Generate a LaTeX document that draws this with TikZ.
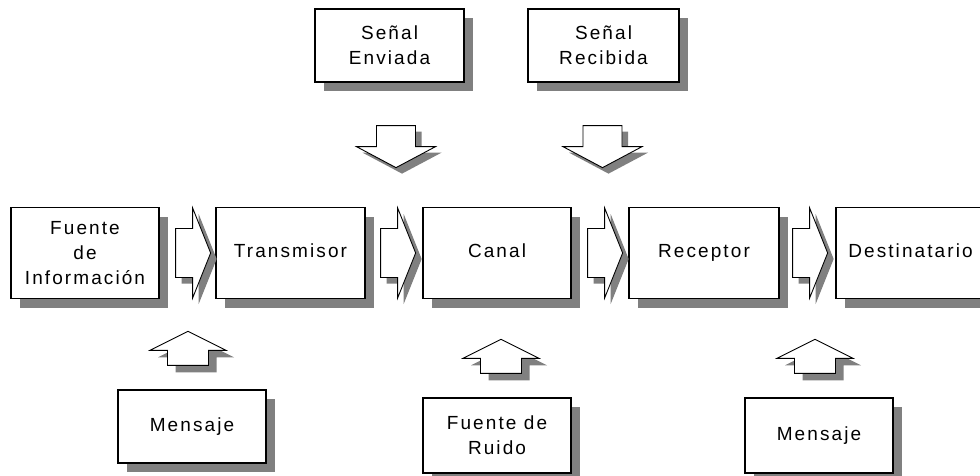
\documentclass[tikz,border=0pt]{standalone}
\usepackage{fontspec}
\setmainfont{Liberation Sans}[LetterSpace=11]
\usetikzlibrary{shadows,calc}
\definecolor{shadowgray}{RGB}{128,128,128}
\newcommand{\evenline}{\vphantom{Tp}}
\tikzset{
  box/.style={draw=black, line width=1.3pt, fill=white, rectangle, align=center,
    inner sep=0pt, font=\fontsize{19}{25}\selectfont,
    drop shadow={shadow xshift=9pt, shadow yshift=-9pt, fill=shadowgray, opacity=1}},
  barrow/.style={draw=black, line width=0.9pt, fill=white, line join=miter},
  bshadow/.style={fill=shadowgray, draw=none},
  rarrow/.pic={
    \path[bshadow, shift={(6,6)}] (0,-24.5) -- (17,-24.5) -- (17,-45) -- (35,0) -- (17,45) -- (17,24.5) -- (0,24.5) -- cycle;
    \path[barrow] (0,-24.5) -- (17,-24.5) -- (17,-45) -- (35,0) -- (17,45) -- (17,24.5) -- (0,24.5) -- cycle;
  },
  darrow/.pic={
    \path[bshadow, shift={(6,6)}] (-19.5,0) -- (19.5,0) -- (19.5,21) -- (39.5,21) -- (0,42) -- (-39.5,21) -- (-19.5,21) -- cycle;
    \path[barrow] (-19.5,0) -- (19.5,0) -- (19.5,21) -- (39.5,21) -- (0,42) -- (-39.5,21) -- (-19.5,21) -- cycle;
  },
  uarrow/.pic={
    \path[bshadow, shift={(8,7)}] (0,0) -- (38,19) -- (20.5,19) -- (20.5,34) -- (-20.5,34) -- (-20.5,19) -- (-38,19) -- cycle;
    \path[barrow] (0,0) -- (38,19) -- (20.5,19) -- (20.5,34) -- (-20.5,34) -- (-20.5,19) -- (-38,19) -- cycle;
  }
}
\begin{document}
\begin{tikzpicture}[x=1pt,y=-1pt]
\useasboundingbox (0,0) rectangle (980,476);
\fill[white] (0,0) rectangle (980,476);

% top boxes
\node[box, minimum width=149pt, minimum height=73pt] (env) at (389.5,45.5) {Señal\\Enviada};
\node[box, minimum width=151pt, minimum height=73pt] (rec) at (603.5,45.5) {Señal\\Recibida};

% main row
\node[box, minimum width=148pt, minimum height=91pt] (fuente) at (85,253) {Fuente\\de\\Información};
\node[box, minimum width=149pt, minimum height=91pt] (trans) at (290.5,253) {\evenline Transmisor};
\node[box, minimum width=148pt, minimum height=91pt] (canal) at (497,253) {\evenline Canal};
\node[box, minimum width=150pt, minimum height=91pt] (recep) at (704,253) {\evenline Receptor};
\node[box, minimum width=149pt, minimum height=91pt] (dest) at (910.5,253) {\evenline Destinatario};

% bottom boxes
\node[box, minimum width=148pt, minimum height=73pt] (men1) at (192,426.5) {\evenline Mensaje};
\node[box, minimum width=148pt, minimum height=75pt] (ruido) at (497,435.5) {Fuente de\\Ruido};
\node[box, minimum width=148pt, minimum height=75pt] (men2) at (819,435.5) {\evenline Mensaje};

% block arrows along the chain
\pic at ($(fuente.east)+(16,0)$) {rarrow};
\pic at ($(trans.east)+(15,0)$) {rarrow};
\pic at ($(canal.east)+(16,0)$) {rarrow};
\pic at ($(recep.east)+(13,0)$) {rarrow};

% arrows from the signal boxes
\pic at ($(env.south)+(6.5,43)$) {darrow};
\pic at ($(rec.south)+(-1,43)$) {darrow};

% arrows from the bottom boxes
\pic at ($(men1.north)+(-4,-58)$) {uarrow};
\pic at ($(ruido.north)+(4,-58)$) {uarrow};
\pic at ($(men2.north)+(-4,-58)$) {uarrow};
\end{tikzpicture}
\end{document}
